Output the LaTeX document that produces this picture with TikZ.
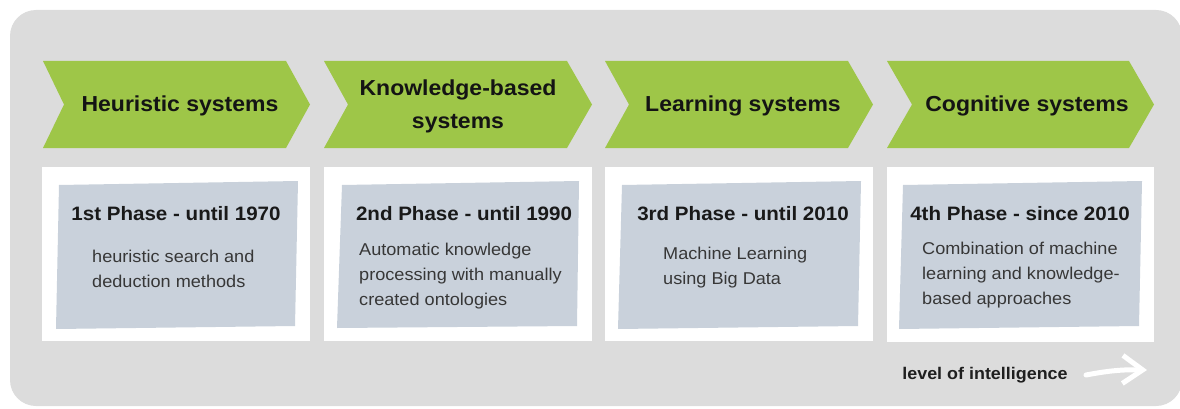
\documentclass[tikz,border=0pt]{standalone}
\usepackage{fontspec}
\setmainfont[FakeStretch=1.06]{Liberation Sans}
\usetikzlibrary{arrows.meta}
\definecolor{framegrey}{RGB}{220,220,220}
\definecolor{stagegreen}{RGB}{158,198,72}
\definecolor{sheetblue}{RGB}{201,209,219}
\definecolor{inkgrey}{RGB}{55,55,55}
\tikzset{stage/.style={fill=stagegreen},
  card/.style={fill=white},
  sheet/.style={fill=sheetblue},
  stagename/.style={font=\fontsize{21.7}{33}\selectfont\bfseries,align=center,text=black!92},
  phasename/.style={font=\fontsize{19.4}{24}\selectfont\bfseries,text=black!90},
  detail/.style={font=\fontsize{17.1}{25}\selectfont,align=left,text=inkgrey,anchor=north west,inner sep=0pt},
  trend/.style={-{Straight Barb[length=20pt,width=28pt]},white,line width=5pt,line cap=round,line join=round}}

\begin{document}
\begin{tikzpicture}[x=1pt,y=-1pt]
  \useasboundingbox (0,0) rectangle (1180,409);
  \fill[framegrey,rounded corners=26pt] (10,10) rectangle (1182,406);
  % 1st phase
  \begin{scope}[shift={(42,0)}]
    \fill[stage] (1,61) -- (244,61) -- (268,104.5) -- (244,148) -- (1,148) -- (22,104.5) -- cycle;
    \fill[card] (0,167) rectangle (268,341);
    \fill[sheet] (17,185) -- (256,181) -- (253,326) -- (14,329) -- cycle;
    \node[stagename] (s1) at (138,106) {Heuristic systems};
    \node[phasename] (p1) at (134,214) {1st Phase - until 1970};
    \node[detail] (d1) at (50,250) {heuristic search and\\deduction methods};
  \end{scope}
  % 2nd phase
  \begin{scope}[shift={(324,0)}]
    \fill[stage] (0,61) -- (243,61) -- (268,104.5) -- (243,148) -- (0,148) -- (24,104.5) -- cycle;
    \fill[card] (0,167) rectangle (268,341);
    \fill[sheet] (18,185) -- (255,181) -- (253,326) -- (13,328) -- cycle;
    \node[stagename] (s2) at (134,106) {Knowledge-based\\systems};
    \node[phasename] (p2) at (140,214) {2nd Phase - until 1990};
    \node[detail] (d2) at (35,243) {Automatic knowledge\\processing with manually\\created ontologies};
  \end{scope}
  % 3rd phase
  \begin{scope}[shift={(605,0)}]
    \fill[stage] (0,61) -- (243,61) -- (268,104.5) -- (243,148) -- (0,148) -- (24,104.5) -- cycle;
    \fill[card] (0,167) rectangle (268,341);
    \fill[sheet] (17,185) -- (256,181) -- (253,326) -- (13,329) -- cycle;
    \node[stagename] (s3) at (138,106) {Learning systems};
    \node[phasename] (p3) at (138,214) {3rd Phase - until 2010};
    \node[detail] (d3) at (58,247) {Machine Learning\\using Big Data};
  \end{scope}
  % 4th phase
  \begin{scope}[shift={(887,0)}]
    \fill[stage] (0,61) -- (242,61) -- (267,104.5) -- (242,148) -- (0,148) -- (25,104.5) -- cycle;
    \fill[card] (0,167) rectangle (267,342);
    \fill[sheet] (16,185) -- (255,181) -- (252,326) -- (12,329) -- cycle;
    \node[stagename] (s4) at (140,106) {Cognitive systems};
    \node[phasename] (p4) at (133,214) {4th Phase - since 2010};
    \node[detail] (d4) at (35,242) {Combination of machine\\learning and knowledge-\\based approaches};
  \end{scope}
  \node[font=\fontsize{16.9}{20}\selectfont\bfseries,text=black!88] (iq) at (985,375) {level of intelligence};
  \coordinate (trendfrom) at (1086,375);
  \coordinate (trendto) at (1147,370);
  \draw[trend] (trendfrom) to[bend left=6] (trendto);
\end{tikzpicture}
\end{document}
